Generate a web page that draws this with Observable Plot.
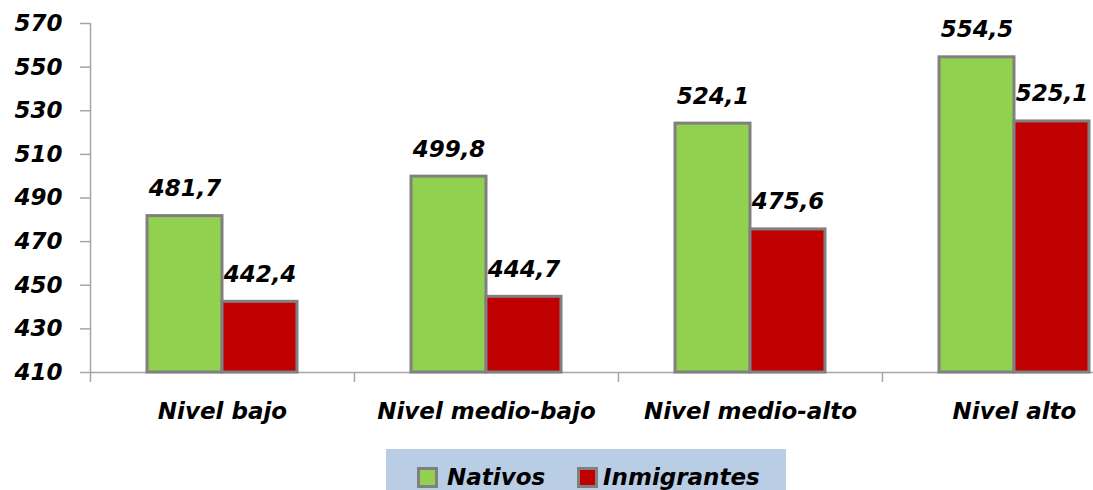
<!DOCTYPE html>
<html><head><meta charset="utf-8">
<script src="https://cdn.jsdelivr.net/npm/d3@7"></script>
<script src="https://cdn.jsdelivr.net/npm/@observablehq/plot@0.6"></script>
<style>
html,body{margin:0;padding:0;background:#fff;overflow:hidden;width:1093px;height:490px;}
#chart{position:absolute;left:0;top:0;width:1093px;height:449px;overflow:hidden;}
#chart svg{display:block;}
#legend{position:absolute;left:386px;top:449px;width:400px;height:60px;background:#B9CDE5;
  font-family:"DejaVu Sans";font-style:italic;font-weight:bold;font-size:23px;color:#000;}
.sw{position:absolute;top:18px;width:21px;height:21px;box-sizing:border-box;border:3px solid #808080;}
.lt{position:absolute;top:14px;line-height:28px;white-space:nowrap;}
</style></head>
<body><div id="chart"></div><div id="legend"></div>
<script>
const categories = ["Nivel bajo", "Nivel medio-bajo", "Nivel medio-alto", "Nivel alto"];
const series = ["Nativos", "Inmigrantes"];
const nativos = [481.7, 499.8, 524.1, 554.5];
const inmigrantes = [442.4, 444.7, 475.6, 525.1];
const colors = ["#92D050", "#C00000"];
const yTicks = [410, 430, 450, 470, 490, 510, 530, 550, 570];

const data = categories.flatMap((c, i) => [
  {cat: c, serie: series[0], value: nativos[i]},
  {cat: c, serie: series[1], value: inmigrantes[i]}
]);
const fmt = v => v.toFixed(1).replace(".", ",");
const axisGray = "#A6A6A6";
const yMin = yTicks[0], yMax = yTicks[yTicks.length - 1];
const tickLen = 10 * (yMax - yMin) / 349; // ~10px below axis, in data units
const boundary = categories.map((c, i) => ({cat: c, top: i === 0 ? yMax : yMin}));

const chart = Plot.plot({
  width: 1093, height: 449,
  marginLeft: 90, marginRight: -53, marginTop: 23, marginBottom: 77,
  style: {fontFamily: "DejaVu Sans", fontStyle: "italic", fontWeight: "bold", fontSize: "23px", color: "#000", background: "transparent", overflow: "hidden"},
  fx: {domain: categories, padding: 0, label: null},
  x: {domain: series, paddingInner: 0, paddingOuter: 0.76, axis: null},
  y: {domain: [yMin, yMax], label: null},
  color: {domain: series, range: colors},
  marks: [
    Plot.ruleY([yMin], {stroke: axisGray, strokeWidth: 1.5}),
    Plot.barY(data, {fx: "cat", x: "serie", y1: yMin, y2: "value", fill: "serie", stroke: "#808080", strokeWidth: 3}),
    Plot.text(data, {fx: "cat", x: "serie", y: "value", text: d => fmt(d.value), dy: -20, lineAnchor: "bottom", fill: "#000"}),
    Plot.ruleX(boundary, {fx: "cat", x: () => series[0], dx: -94.5, y1: yMin - tickLen, y2: "top", stroke: axisGray, strokeWidth: 1.5}),
    Plot.axisY({ticks: yTicks, tickSize: 10, tickPadding: 18, stroke: axisGray, strokeWidth: 1.5, label: null, fill: "#000"}),
    Plot.axisFx({anchor: "bottom", tickSize: 0, tickPadding: 30, label: null, fill: "#000"})
  ]
});
document.getElementById("chart").appendChild(chart);

const legend = document.getElementById("legend");
const swX = [31, 191], txX = [61, 217];
series.forEach((s, i) => {
  const sw = document.createElement("div");
  sw.className = "sw"; sw.style.left = swX[i] + "px"; sw.style.background = colors[i];
  legend.appendChild(sw);
  const t = document.createElement("div");
  t.className = "lt"; t.style.left = txX[i] + "px"; t.textContent = s;
  legend.appendChild(t);
});
</script>
</body></html>
